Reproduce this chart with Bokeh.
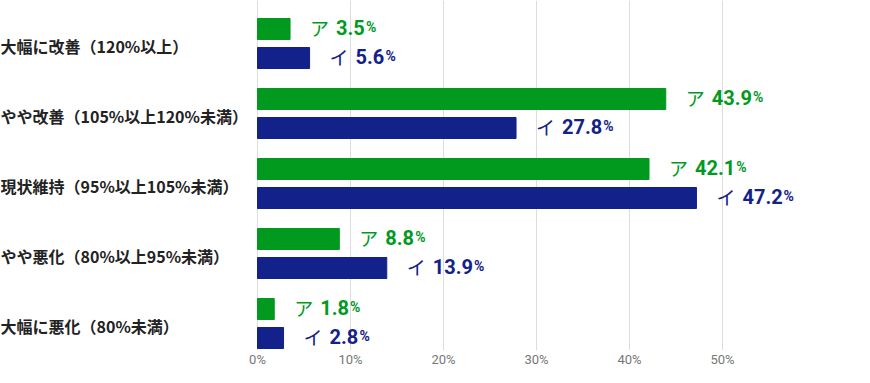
from bokeh.plotting import figure
from bokeh.models import ColumnDataSource, Range1d, FixedTicker, PrintfTickFormatter
from bokeh.core.properties import value
from bokeh.embed import file_html
from bokeh.resources import INLINE

# ---- data ----
categories = ["大幅に改善（120%以上）", "やや改善（105%以上120%未満）",
              "現状維持（95%以上105%未満）", "やや悪化（80%以上95%未満）",
              "大幅に悪化（80%未満）"]
series_names = ["ア", "イ"]
values_a = [3.5, 43.9, 42.1, 8.8, 1.8]
values_i = [5.6, 27.8, 47.2, 13.9, 2.8]
tick_values = [0, 10, 20, 30, 40, 50]

# ---- style ----
GREEN = "#019a1e"
BLUE = "#13218a"
GRID = "#dddddd"
FW = 854
FH = 350
PX_PER_PCT = 9.3
ZERO_PX = 257
GROUP_PX = 70
x_start = -ZERO_PX / PX_PER_PCT
x_end = (FW - ZERO_PX) / PX_PER_PCT
y_top = -43 / GROUP_PX
y_bottom = y_top + FH / GROUP_PX
dodge_off = 14.5 / GROUP_PX
bar_h = 21 / GROUP_PX
TXT_DY = -2

p = figure(frame_width=FW, frame_height=FH, output_backend="svg", toolbar_location=None,
           x_range=Range1d(x_start, x_end), y_range=Range1d(y_bottom, y_top),
           y_axis_location=None, min_border=0, min_border_left=0, min_border_right=0,
           min_border_top=0, min_border_bottom=0)
p.outline_line_color = None
p.background_fill_color = "white"
p.border_fill_color = "white"

# grid / axis
p.xaxis.ticker = FixedTicker(ticks=tick_values)
p.xgrid.ticker = FixedTicker(ticks=tick_values)
p.xgrid.grid_line_color = GRID
p.xgrid.grid_line_width = 1
p.ygrid.visible = False
p.xaxis.formatter = PrintfTickFormatter(format="%d%%")
p.xaxis.axis_line_color = None
p.xaxis.major_tick_line_color = None
p.xaxis.minor_tick_line_color = None
p.xaxis.major_tick_out = 0
p.xaxis.major_tick_in = 0
p.xaxis.major_label_standoff = 1
p.xaxis.major_label_text_font = "Roboto"
p.xaxis.major_label_text_font_size = "13px"
p.xaxis.major_label_text_color = "#777777"

idx = list(range(len(categories)))

def num_width(s, size=20):
    return sum(0.27 * size if c == "." else 0.562 * size for c in s)

for vals, color, sign, name in [(values_a, GREEN, -1, series_names[0]),
                                (values_i, BLUE, 1, series_names[1])]:
    ys = [i + sign * dodge_off for i in idx]
    nums = [f"{v:.1f}" for v in vals]
    src = ColumnDataSource(dict(
        y=ys, right=vals, num=nums,
        name=[name] * len(vals),
        pct=["%"] * len(vals),
        pct_off=[46 + num_width(n) + 2 for n in nums],
    ))
    p.hbar(y="y", left=0, right="right", height=bar_h, color=color, source=src)
    p.text(x="right", y="y", text="name", source=src, x_offset=20, y_offset=TXT_DY,
           text_font=value("Noto Sans CJK JP"), text_font_size="19px",
           text_color=color, text_baseline="alphabetic", text_align="left")
    p.text(x="right", y="y", text="num", source=src, x_offset=46, y_offset=TXT_DY,
           text_font=value("Roboto"), text_font_style="bold", text_font_size="20px",
           text_color=color, text_baseline="alphabetic", text_align="left")
    p.text(x="right", y="y", text="pct", source=src, x_offset="pct_off", y_offset=TXT_DY,
           text_font=value("Roboto"), text_font_style="bold", text_font_size="14px",
           text_color=color, text_baseline="alphabetic", text_align="left")

cat_src = ColumnDataSource(dict(x=[x_start] * len(categories), y=idx, text=categories))
p.text(x="x", y="y", text="text", source=cat_src, y_offset=2,
       text_font=value("Noto Sans CJK JP"), text_font_style="bold",
       text_font_size="16px", text_color="#222222",
       text_baseline="middle", text_align="left")

open("out.html", "w").write(file_html(p, INLINE))
